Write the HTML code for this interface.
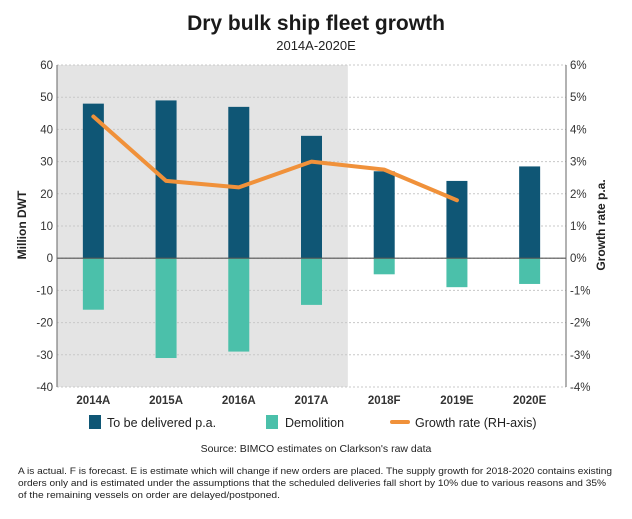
<!DOCTYPE html>
<html><head><meta charset="utf-8"><style>
body{margin:0;background:#fff;font-family:"Liberation Sans",sans-serif;}
svg text{font-family:"Liberation Sans",sans-serif;}
</style></head><body>
<svg width="632" height="514" viewBox="0 0 632 514">
<text x="316" y="30" text-anchor="middle" font-size="21" font-weight="bold" fill="#1a1a1a">Dry bulk ship fleet growth</text>
<text x="316" y="50" text-anchor="middle" font-size="13" fill="#222">2014A-2020E</text>
<g id="plot"></g>
<text transform="translate(26,225) rotate(-90)" text-anchor="middle" font-size="12" font-weight="bold" fill="#222">Million DWT</text>
<text transform="translate(605,225) rotate(-90)" text-anchor="middle" font-size="12" font-weight="bold" fill="#222">Growth rate p.a.</text>
<g>
<rect x="89" y="415" width="12" height="14" fill="#0f5675"/>
<text x="107" y="427" font-size="12.5" fill="#222">To be delivered p.a.</text>
<rect x="266" y="415" width="12" height="14" fill="#4bc0aa"/>
<text x="285" y="427" font-size="12.5" fill="#222">Demolition</text>
<rect x="390" y="420" width="20" height="4" rx="2" fill="#f0913a"/>
<text x="415" y="427" font-size="12.5" fill="#222">Growth rate (RH-axis)</text>
</g>
<text x="316" y="452" text-anchor="middle" font-size="10.5" fill="#222">Source: BIMCO estimates on Clarkson's raw data</text>
<g font-size="9.4" fill="#222">
<text x="18" y="474" textLength="594" lengthAdjust="spacingAndGlyphs">A is actual. F is forecast. E is estimate which will change if new orders are placed. The supply growth for 2018-2020 contains existing</text>
<text x="18" y="486" textLength="588" lengthAdjust="spacingAndGlyphs">orders only and is estimated under the assumptions that the scheduled deliveries fall short by 10% due to various reasons and 35%</text>
<text x="18" y="498" textLength="262" lengthAdjust="spacingAndGlyphs">of the remaining vessels on order are delayed/postponed.</text>
</g>
</svg>
<script>
const categories=["2014A","2015A","2016A","2017A","2018F","2019E","2020E"];
const delivered=[48,49,47,38,27,24,28.5];
const demolition=[-16,-31,-29,-14.5,-5,-9,-8];
const growth=[4.4,2.4,2.2,3.0,2.75,1.8];
const leftTicks=[60,50,40,30,20,10,0,-10,-20,-30,-40];
const rightTicks=["6%","5%","4%","3%","2%","1%","0%","-1%","-2%","-3%","-4%"];
const NS="http://www.w3.org/2000/svg";
const g=document.getElementById('plot');
const X0=57,X1=566,Y0=65,Y1=387;
const yL=v=>Y0+(60-v)/100*(Y1-Y0);
const yR=v=>Y0+(6-v)/10*(Y1-Y0);
const bw=(X1-X0)/categories.length;
const xc=i=>X0+bw*(i+0.5);
function el(t,a){const e=document.createElementNS(NS,t);for(const k in a)e.setAttribute(k,a[k]);g.appendChild(e);return e;}
let sh=el('rect',{x:X0,y:Y0,width:bw*4,height:Y1-Y0,fill:'#e4e4e4'});


leftTicks.forEach((v,i)=>{
  let l=el('line',{x1:X0,x2:X1,y1:yL(v),y2:yL(v),stroke:'#c8c8c8','stroke-dasharray':'2,2'});
  
  
  let t=el('text',{x:X0-4,y:yL(v)+4,'text-anchor':'end','font-size':11.5,fill:'#333'});t.textContent=v;
  
  
  let r=el('text',{x:X1+4,y:yR(6-i)+4,'font-size':11.5,fill:'#333'});r.textContent=rightTicks[i];
  
  
});
categories.forEach((c,i)=>{
  let b=el('rect',{x:xc(i)-10.5,y:yL(delivered[i]),width:21,height:yL(0)-yL(delivered[i]),fill:'#0f5675'});
  
  
  let d=el('rect',{x:xc(i)-10.5,y:yL(0),width:21,height:yL(demolition[i])-yL(0),fill:'#4bc0aa'});
  
  
  let t=el('text',{x:xc(i),y:Y1+17,'text-anchor':'middle','font-size':11.5,'font-weight':'bold',fill:'#333'});t.textContent=c;
  
  
});
let z=el('line',{x1:X0,x2:X1,y1:yL(0),y2:yL(0),stroke:'#555','stroke-width':1.2});


let la=el('line',{x1:X0,x2:X0,y1:Y0,y2:Y1,stroke:'#666'});


let ra=el('line',{x1:X1,x2:X1,y1:Y0,y2:Y1,stroke:'#666'});


let pts=growth.map((v,i)=>xc(i)+','+yR(v)).join(' ');
let pl=el('polyline',{points:pts,fill:'none',stroke:'#f0913a','stroke-width':4,'stroke-linejoin':'round','stroke-linecap':'round'});


</script>
</body></html>
